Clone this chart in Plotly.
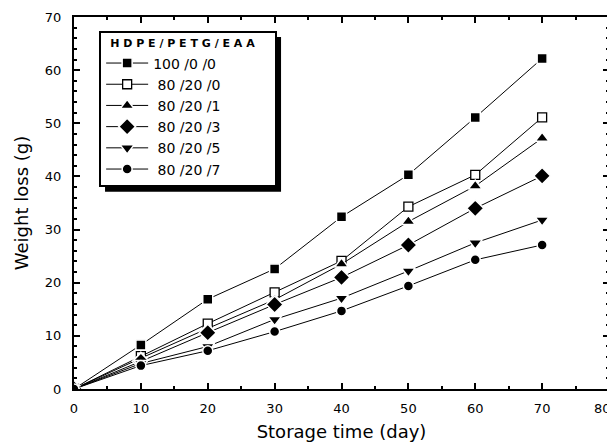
import plotly.graph_objects as go

days = [0, 10, 20, 30, 40, 50, 60, 70]
names = ["100 /0 /0", " 80 /20 /0", " 80 /20 /1", " 80 /20 /3", " 80 /20 /5", " 80 /20 /7"]
s_100_0_0 = [0, 8.3, 16.9, 22.6, 32.4, 40.3, 51.1, 62.2]
s_80_20_0 = [0, 6.2, 12.3, 18.2, 24.1, 34.3, 40.3, 51.1]
s_80_20_1 = [0, 5.8, 11.4, 16.8, 23.5, 31.5, 38.2, 47.2]
s_80_20_3 = [0, 5.2, 10.6, 15.9, 21.0, 27.1, 34.0, 40.1]
s_80_20_5 = [0, 4.8, 8.0, 13.1, 17.1, 22.2, 27.5, 31.8]
s_80_20_7 = [0, 4.4, 7.2, 10.8, 14.7, 19.4, 24.3, 27.1]
series = [s_100_0_0, s_80_20_0, s_80_20_1, s_80_20_3, s_80_20_5, s_80_20_7]

x_tickvals = [0, 10, 20, 30, 40, 50, 60, 70, 80]
x_ticktext = ["0", "10", "20", "30", "40", "50", "60", "70", "80"]

symbols = ["square", "square", "triangle-up", "diamond", "triangle-down", "circle"]
fills = ["black", "white", "black", "black", "black", "black"]
sizes = [10, 9, 12, 13, 12, 10]

fig = go.Figure()
for nm, vals, sym, fc, sz in zip(names, series, symbols, fills, sizes):
    fig.add_trace(go.Scatter(
        x=days, y=vals, name=nm, mode="lines+markers",
        line=dict(color="black", width=1),
        marker=dict(symbol=sym, size=sz, color=fc,
                    line=dict(color="black" if fc == "white" else "white",
                              width=1.3 if fc == "white" else 1.5)),
    ))

font_family = "DejaVu Sans, Verdana, sans-serif"
nb = "\u00a0"
legend_title = nb * 2 + "<b>H D P E / P E T G / E A A</b>" + nb * 5
# last x label is drawn as a right-anchored annotation so it stays inside the page
x_labels_shown = x_ticktext[:-1] + [""]

# the page body has an 8px margin: figure is shifted 8px right/down
fig.update_layout(
    width=607, height=434,
    margin=dict(l=66, r=6, t=9, b=53, autoexpand=False),
    paper_bgcolor="white", plot_bgcolor="white",
    font=dict(family=font_family, color="black", size=13),
    showlegend=True,
    legend=dict(
        x=0.047, y=0.962, xanchor="left", yanchor="top",
        bgcolor="white", bordercolor="black", borderwidth=2,
        font=dict(size=14, family=font_family),
        title=dict(text=legend_title, font=dict(size=11, family=font_family)),
        itemwidth=42, tracegroupgap=0,
    ),
    shapes=[dict(type="rect", xref="paper", yref="paper",
                 x0=0.058, x1=0.387, y0=0.530, y1=0.946,
                 fillcolor="black", line=dict(width=0), layer="below")],
    annotations=[dict(x=x_tickvals[-1], xref="x", y=0, yref="paper",
                      text=x_ticktext[-1], showarrow=False,
                      xanchor="right", yanchor="middle", xshift=4, yshift=-19,
                      font=dict(size=13, family=font_family, color="black"))],
)

fig.update_xaxes(
    range=[0, 80], tickmode="array", tickvals=x_tickvals, ticktext=x_labels_shown,
    automargin=False,
    showline=True, linecolor="black", linewidth=2, mirror="ticks",
    ticks="inside", ticklen=6, tickwidth=1.5, tickcolor="black",
    minor=dict(dtick=5, tick0=0, ticks="inside", ticklen=3, tickwidth=1.5, tickcolor="black"),
    showgrid=False, zeroline=False, ticklabelstandoff=6,
    ticklabeloverflow="allow",
    tickfont=dict(size=13),
    title=dict(text="Storage time (day)", font=dict(size=18), standoff=12),
)
fig.update_yaxes(
    range=[0, 70], dtick=10, tick0=0, automargin=False,
    showline=True, linecolor="black", linewidth=2, mirror="ticks",
    ticks="inside", ticklen=6, tickwidth=1.5, tickcolor="black",
    minor=dict(dtick=2, ticks="inside", ticklen=3, tickwidth=1.5, tickcolor="black"),
    showgrid=False, zeroline=False, ticklabelstandoff=8,
    ticklabeloverflow="allow",
    tickfont=dict(size=13),
    title=dict(text="Weight loss (g)", font=dict(size=18), standoff=12),
)

fig.write_html("out.html")
